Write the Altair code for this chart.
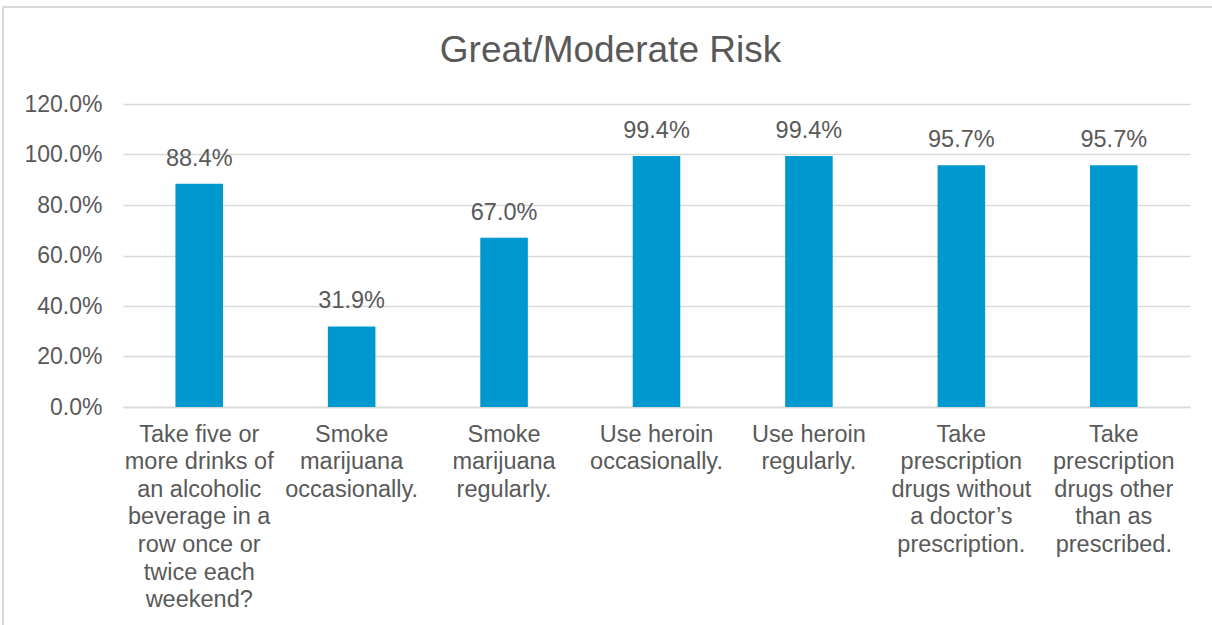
import altair as alt
import pandas as pd

categories = [
    "Take five or more drinks of an alcoholic beverage in a row once or twice each weekend?",
    "Smoke marijuana occasionally.",
    "Smoke marijuana regularly.",
    "Use heroin occasionally.",
    "Use heroin regularly.",
    "Take prescription drugs without a doctor\u2019s prescription.",
    "Take prescription drugs other than as prescribed.",
]
label_lines = [
    "Take five or|more drinks of|an alcoholic|beverage in a|row once or|twice each|weekend?",
    "Smoke|marijuana|occasionally.",
    "Smoke|marijuana|regularly.",
    "Use heroin|occasionally.",
    "Use heroin|regularly.",
    "Take|prescription|drugs without|a doctor\u2019s|prescription.",
    "Take|prescription|drugs other|than as|prescribed.",
]
values = [0.884, 0.319, 0.670, 0.994, 0.994, 0.957, 0.957]
y_ticks = [0.0, 0.2, 0.4, 0.6, 0.8, 1.0, 1.2]

df = pd.DataFrame({"category": label_lines, "value": values, "full": categories})

FONT = "Liberation Sans"
TXT = "#595959"
BAR = "#0099CF"
GRID = "#D9D9D9"

x_enc = alt.X(
    "category:N",
    sort=label_lines,
    scale=alt.Scale(paddingInner=0.688, paddingOuter=0.344),
    axis=alt.Axis(
        title=None,
        labelAngle=0,
        labelExpr="split(datum.label, '|')",
        labelFont=FONT,
        labelFontSize=23.5,
        labelColor=TXT,
        labelLineHeight=27.6,
        labelBaseline="top",
        labelPadding=15,
        labelLimit=300,
        ticks=False,
        domain=True,
        domainColor=GRID,
        domainWidth=1.3,
        grid=False,
    ),
)

y_enc = alt.Y(
    "value:Q",
    scale=alt.Scale(domain=[0, 1.2], nice=False),
    axis=alt.Axis(
        title=None,
        values=y_ticks,
        format=".1%",
        labelFont=FONT,
        labelFontSize=23,
        labelColor=TXT,
        labelPadding=21,
        ticks=False,
        domain=False,
        grid=True,
        gridColor=GRID,
        gridWidth=1.3,
    ),
)

bars = alt.Chart(df).mark_bar(color=BAR).encode(x=x_enc, y=y_enc)

labels = alt.Chart(df).mark_text(
    font=FONT, fontSize=23.5, color=TXT, baseline="alphabetic", dy=-18
).encode(
    x=alt.X("category:N", sort=label_lines),
    y=alt.Y("value:Q"),
    text=alt.Text("value:Q", format=".1%"),
)

# chart-area frame (top and left edges visible in the reference)
frame_top = alt.Chart(df).mark_rule(color=GRID, strokeWidth=1.5).encode(
    x=alt.value(-120), x2=alt.value(1089), y=alt.value(-97)
)
frame_left = alt.Chart(df).mark_rule(color=GRID, strokeWidth=1.5).encode(
    x=alt.value(-120), y=alt.value(-97), y2=alt.value(521)
)

chart = (
    alt.layer(frame_top, frame_left, bars, labels)
    .properties(
        width=1067,
        height=303,
        autosize=alt.AutoSizeParams(type="none"),
        padding={"left": 123, "top": 104, "right": 22, "bottom": 218},
        title=alt.TitleParams(
            "Great/Moderate Risk",
            font=FONT,
            fontSize=37,
            fontWeight="normal",
            color=TXT,
            anchor="middle",
            baseline="alphabetic",
            offset=-93,
            dx=-46,
        ),
        background="white",
    )
    .configure_view(stroke=None)
)

chart.save("out.html", embed_options={"renderer": "svg", "actions": False})
